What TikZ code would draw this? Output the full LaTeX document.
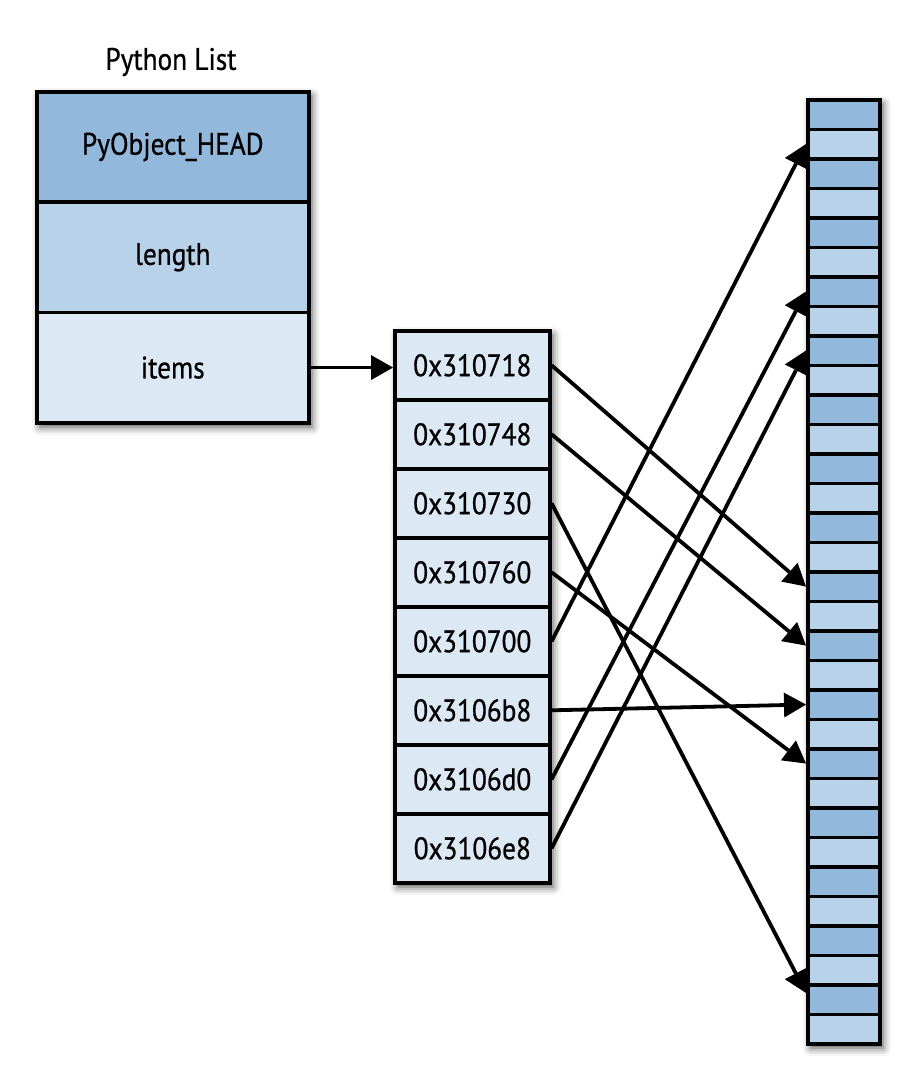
\documentclass[tikz,border=0pt]{standalone}
\usepackage{fontspec}
\setmainfont[FakeStretch=0.88, FakeBold=0.7]{PT Sans}
\usetikzlibrary{arrows.meta,shadows.blur,calc}
\definecolor{cdark}{RGB}{146,185,220}
\definecolor{cmid}{RGB}{183,210,233}
\definecolor{clight}{RGB}{220,232,243}
\begin{document}
\begin{tikzpicture}[x=1pt,y=-1pt,
  cell/.style={draw=black, line width=3.6pt, inner sep=0pt, anchor=north west, font=\fontsize{31}{31}\selectfont},
  listcell/.style={cell, minimum width=272pt, minimum height=110.3pt},
  addr/.style={cell, minimum width=155pt, minimum height=69pt, fill=clight},
  mem/.style={cell, minimum width=72pt, minimum height=29.5pt},
  ptr/.style={draw=black, line width=3.8pt, -{Triangle[length=22pt,width=25pt,fill=black,line width=0pt]}},
  shade/.style={fill=white, blur shadow={shadow xshift=5pt, shadow yshift=-6pt, shadow blur radius=8pt, shadow opacity=70}}
]
\useasboundingbox (0,0) rectangle (918,1080);

% shadows
\begin{scope}
\path[shade] (35,90) rectangle (307,421);
\path[shade] (393,329) rectangle (548,881);
\path[shade] (806,98) rectangle (878,1042);
\end{scope}

% title
\node (title) at (171,62) {\fontsize{31}{31}\selectfont Python List};

% Python list object
\node[listcell, fill=cdark] (hd) at (35,90) {PyObject\_HEAD};
\node[listcell, fill=cmid] (len) at (35,200.3) {length};
\node[listcell, fill=clight] (it) at (35,310.6) {items};

% address array
\foreach \lab [count=\k] in {0x310718,0x310748,0x310730,0x310760,0x310700,0x3106b8,0x3106d0,0x3106e8}{
  \pgfmathsetmacro\yy{329+69*(\k-1)}
  \node[addr] (a\k) at (393,\yy) {\lab};
}

% memory
\foreach \i in {0,...,31}{
  \pgfmathsetmacro\yy{98+29.5*\i}
  \ifodd\i
    \node[mem, fill=cmid] (m\i) at (806,\yy) {};
  \else
    \node[mem, fill=cdark] (m\i) at (806,\yy) {};
  \fi
}

% pointers
\draw[ptr] (it.east) -- (it.east -| a1.west);
\draw[ptr] (a1.east) -- (m16.west);
\draw[ptr] (a2.east) -- (m18.west);
\draw[ptr] (a3.east) -- ($(m30.north west)!0.3!(m30.south west)$);
\draw[ptr] (a4.east) -- (m22.west);
\draw[ptr] (a5.east) -- (m1.west);
\draw[ptr] (a6.east) -- (m20.west);
\draw[ptr] (a7.east) -- (m6.west);
\draw[ptr] (a8.east) -- (m8.west);
\end{tikzpicture}
\end{document}
